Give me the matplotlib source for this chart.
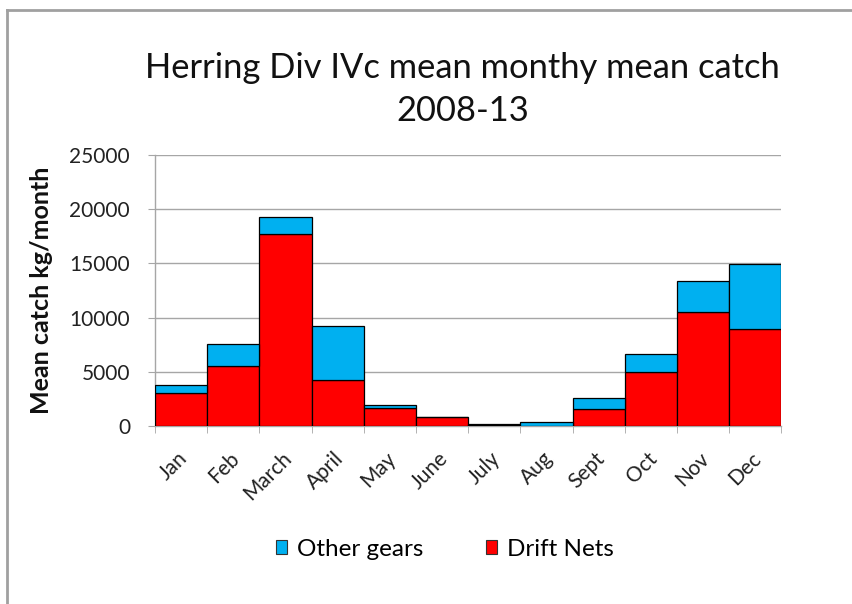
import matplotlib
matplotlib.use("Agg")
import matplotlib.pyplot as plt
from matplotlib.lines import Line2D
from matplotlib.patches import Patch
import matplotlib.transforms as mtransforms
import numpy as np

months = ["Jan", "Feb", "March", "April", "May", "June", "July", "Aug",
          "Sept", "Oct", "Nov", "Dec"]
drift_nets = [3070, 5530, 17680, 4240, 1630, 820, 120, 20, 1540, 4950, 10550, 8920]
totals = [3750, 7560, 19250, 9220, 1940, 860, 150, 400, 2610, 6610, 13410, 14950]
other_gears = [t - d for t, d in zip(totals, drift_nets)]
yticks = [0, 5000, 10000, 15000, 20000, 25000]

plt.rcParams['font.family'] = ['Lato', 'DejaVu Sans']

fig = plt.figure(figsize=(8.52, 6.04), dpi=100)
ax = fig.add_axes([0.182, 0.2947, 0.735, 0.4487])

x = np.arange(len(months))
red = "#FF0000"
cyan = "#00B0F0"
ax.bar(x, drift_nets, width=1.0, color=red, edgecolor="black", linewidth=0.9, zorder=3)
ax.bar(x, other_gears, width=1.0, bottom=drift_nets, color=cyan, edgecolor="black",
       linewidth=0.9, zorder=3)

ax.set_xlim(-0.5, len(months) - 0.5)
ax.set_ylim(0, 25000)
ax.set_yticks(yticks)
ax.set_yticklabels([str(v) for v in yticks], fontsize=15, color="#222222")
ax.yaxis.grid(True, color="#A6A6A6", linewidth=1.0, zorder=0)
ax.set_axisbelow(True)

ax.set_xticks(x)
ax.set_xticklabels(months, rotation=45, ha="right", rotation_mode="anchor",
                   fontsize=15, color="#222222")
ax.tick_params(axis="x", length=0, pad=16)
offset = mtransforms.ScaledTranslation(-4 / 100, 0, fig.dpi_scale_trans)
for lbl in ax.get_xticklabels():
    lbl.set_transform(lbl.get_transform() + offset)
ax.set_xticks(np.arange(-0.5, len(months)), minor=True)
ax.tick_params(axis="x", which="minor", length=5, color="#A6A6A6", direction="out")
ax.tick_params(axis="y", length=5, color="#A6A6A6", pad=13)

for s in ["top", "right"]:
    ax.spines[s].set_visible(False)
for s in ["left", "bottom"]:
    ax.spines[s].set_color("#A6A6A6")
    ax.spines[s].set_linewidth(1.0)

ax.set_ylabel("Mean catch kg/month", fontsize=18, fontweight="bold", labelpad=12,
              color="#111111")

fig.text(0.543, 0.888, "Herring Div IVc mean monthy mean catch", ha="center",
         va="center", fontsize=24.8, color="#111111")
fig.text(0.543, 0.816, "2008-13", ha="center", va="center", fontsize=24.8,
         color="#111111")

handles = [Patch(facecolor=cyan, edgecolor="#333333", linewidth=0.8),
           Patch(facecolor=red, edgecolor="#333333", linewidth=0.8)]
fig.legend(handles, ["Other gears", "Drift Nets"], loc="center",
           bbox_to_anchor=(0.522, 0.091), ncol=2, frameon=False, fontsize=17.5,
           handlelength=0.45, handleheight=0.55, handletextpad=0.4, columnspacing=2.6)

# figure border (top and left)
border_color = "#A0A0A0"
fig.add_artist(Line2D([7 / 852, 1.0], [1 - 10 / 604, 1 - 10 / 604],
                      transform=fig.transFigure, color=border_color, linewidth=2))
fig.add_artist(Line2D([7 / 852, 7 / 852], [0, 1 - 10 / 604],
                      transform=fig.transFigure, color=border_color, linewidth=2))

fig.savefig("out.png", dpi=100)
